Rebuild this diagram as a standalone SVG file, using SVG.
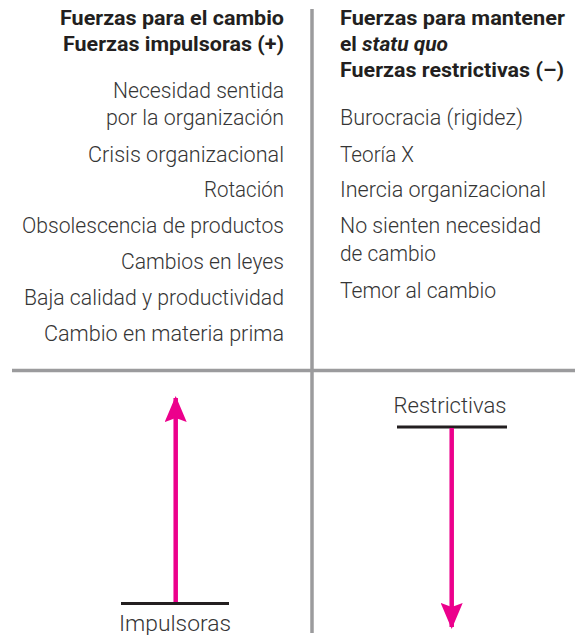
<svg xmlns="http://www.w3.org/2000/svg" width="584" height="635" viewBox="0 0 584 635">
<defs>
<style>
.h{font-family:Roboto,"Liberation Sans",sans-serif;font-weight:700;font-size:21px;fill:#231f20}
.t{font-family:Roboto,"Liberation Sans",sans-serif;font-weight:300;font-size:22px;fill:#353535}
.r{text-anchor:end}
.g{stroke:#9b9b9d;stroke-width:3.5;fill:none}
.bar{stroke:#231f20;stroke-width:3;fill:none}
.ar{stroke:#ec008c;stroke-width:4.5;fill:none}
</style>
<marker id="ah" viewBox="0 0 26 22" refX="24" refY="11" markerWidth="26" markerHeight="22" markerUnits="userSpaceOnUse" orient="auto">
<path d="M0,0 L26,11 L0,22 L4,11 Z" fill="#ec008c"/>
</marker>
</defs>
<rect width="584" height="635" fill="#fff"/>
<g id="grid">
<line class="g" x1="312" y1="9" x2="312" y2="633"/>
<line class="g" x1="12" y1="370.5" x2="575" y2="370.5"/>
</g>
<g id="left-header">
<text class="h r" x="284" y="25" textLength="224" lengthAdjust="spacingAndGlyphs">Fuerzas para el cambio</text>
<text class="h r" x="284" y="51" textLength="221" lengthAdjust="spacingAndGlyphs">Fuerzas impulsoras (+)</text>
</g>
<g id="right-header">
<text class="h" x="340" y="25" textLength="225" lengthAdjust="spacingAndGlyphs">Fuerzas para mantener</text>
<text class="h" x="340" y="51" textLength="108" lengthAdjust="spacingAndGlyphs">el <tspan font-style="italic">statu quo</tspan></text>
<text class="h" x="340" y="77" textLength="224" lengthAdjust="spacingAndGlyphs">Fuerzas restrictivas (–)</text>
</g>
<g id="left-items">
<text class="t r" x="284" y="98" textLength="171" lengthAdjust="spacingAndGlyphs">Necesidad sentida</text>
<text class="t r" x="284" y="125" textLength="178" lengthAdjust="spacingAndGlyphs">por la organización</text>
<text class="t r" x="284" y="162" textLength="196" lengthAdjust="spacingAndGlyphs">Crisis organizacional</text>
<text class="t r" x="284" y="197" textLength="80" lengthAdjust="spacingAndGlyphs">Rotación</text>
<text class="t r" x="284" y="233" textLength="262" lengthAdjust="spacingAndGlyphs">Obsolescencia de productos</text>
<text class="t r" x="284" y="269" textLength="163" lengthAdjust="spacingAndGlyphs">Cambios en leyes</text>
<text class="t r" x="284" y="305" textLength="260" lengthAdjust="spacingAndGlyphs">Baja calidad y productividad</text>
<text class="t r" x="284" y="341" textLength="240" lengthAdjust="spacingAndGlyphs">Cambio en materia prima</text>
</g>
<g id="right-items">
<text class="t" x="340" y="125" textLength="183" lengthAdjust="spacingAndGlyphs">Burocracia (rigidez)</text>
<text class="t" x="340" y="162" textLength="74" lengthAdjust="spacingAndGlyphs">Teoría X</text>
<text class="t" x="340" y="197" textLength="206" lengthAdjust="spacingAndGlyphs">Inercia organizacional</text>
<text class="t" x="340" y="233" textLength="201" lengthAdjust="spacingAndGlyphs">No sienten necesidad</text>
<text class="t" x="340" y="261" textLength="96" lengthAdjust="spacingAndGlyphs">de cambio</text>
<text class="t" x="340" y="298" textLength="156" lengthAdjust="spacingAndGlyphs">Temor al cambio</text>
</g>
<g id="impulsoras">
<line class="bar" x1="121" y1="603.5" x2="229" y2="603.5"/>
<text class="t" x="175" y="631" text-anchor="middle" textLength="112" lengthAdjust="spacingAndGlyphs">Impulsoras</text>
</g>
<g id="restrictivas">
<text class="t" x="450" y="413" text-anchor="middle" textLength="113" lengthAdjust="spacingAndGlyphs">Restrictivas</text>
<line class="bar" x1="397" y1="427" x2="507" y2="427"/>
</g>
<g id="connectors">
<line class="ar" x1="175.7" y1="602" x2="175.7" y2="398" marker-end="url(#ah)"/>
<line class="ar" x1="451.7" y1="428" x2="451.7" y2="627" marker-end="url(#ah)"/>
</g>
</svg>
